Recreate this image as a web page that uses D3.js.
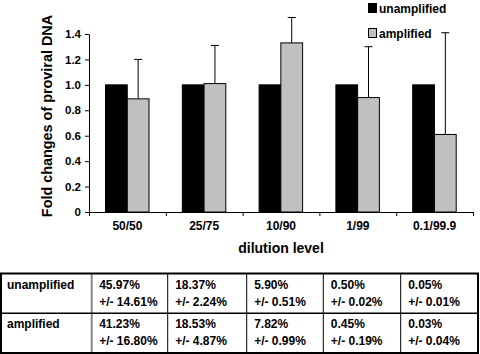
<!DOCTYPE html>
<html>
<head>
<meta charset="utf-8">
<script src="https://cdn.jsdelivr.net/npm/d3@7"></script>
<style>
  body { margin: 0; background: #fff; }
  svg text { font-family: "Liberation Sans", Arial, sans-serif; font-weight: bold; fill: #000; }
</style>
</head>
<body>
<div id="chart"></div>
<script>
const categories = ["50/50", "25/75", "10/90", "1/99", "0.1/99.9"];
const unamplified = [1.0, 1.0, 1.0, 1.0, 1.0];
const amplified = [0.89, 1.01, 1.33, 0.90, 0.61];
const amplifiedErr = [0.31, 0.30, 0.20, 0.40, 0.80];
const yTicks = [0, 0.2, 0.4, 0.6, 0.8, 1.0, 1.2, 1.4];
const seriesNames = ["unamplified", "amplified"];
const rowLabels = ["unamplified", "amplified"];
const tableMeans = [
  ["45.97%", "18.37%", "5.90%", "0.50%", "0.05%"],
  ["41.23%", "18.53%", "7.82%", "0.45%", "0.03%"]
];
const tableSds = [
  ["+/- 14.61%", "+/- 2.24%", "+/- 0.51%", "+/- 0.02%", "+/- 0.01%"],
  ["+/- 16.80%", "+/- 4.87%", "+/- 0.99%", "+/- 0.19%", "+/- 0.04%"]
];

const W = 480, H = 354;
const m = {left: 89, right: 7, top: 34, bottom: 142};
const colors = ["#000000", "#c0c0c0"];

const svg = d3.select("#chart").append("svg")
  .attr("width", W).attr("height", H);

const x0 = d3.scaleBand().domain(categories).range([m.left, W - m.right]);
const x1 = d3.scaleBand().domain(seriesNames).range([16.5, 16.5 + 43.5]);
const y = d3.scaleLinear().domain([0, 1.4]).range([H - m.bottom, m.top]);

// bars
const g = svg.append("g");
categories.forEach((c, i) => {
  const vals = [unamplified[i], amplified[i]];
  vals.forEach((v, j) => {
    g.append("rect")
      .attr("x", x0(c) + x1(seriesNames[j]))
      .attr("y", y(v))
      .attr("width", x1.bandwidth())
      .attr("height", y(0) - y(v))
      .attr("fill", colors[j])
      .attr("stroke", "#000")
      .attr("stroke-width", 1);
  });
  // error bar on amplified
  const cx = x0(c) + x1("amplified") + x1.bandwidth() / 2;
  const top = amplified[i] + amplifiedErr[i];
  g.append("line").attr("x1", cx).attr("x2", cx)
    .attr("y1", y(amplified[i])).attr("y2", y(top))
    .attr("stroke", "#000").attr("stroke-width", 1);
  g.append("line").attr("x1", cx - 4).attr("x2", cx + 4)
    .attr("y1", y(top)).attr("y2", y(top))
    .attr("stroke", "#000").attr("stroke-width", 1);
});

// y axis
const yAxis = svg.append("g")
  .attr("transform", `translate(${m.left},0)`)
  .call(d3.axisLeft(y).tickValues(yTicks)
    .tickFormat(d => d === 0 ? "0" : d3.format(".1f")(d))
    .tickSize(4).tickSizeOuter(0).tickPadding(4));
yAxis.selectAll("text").style("font-size", "11.5px");

// x axis: boundary ticks, labels centered in bands
const xb = d3.scaleLinear().domain([0, categories.length]).range([m.left, W - m.right]);
svg.append("g")
  .attr("transform", `translate(0,${y(0)})`)
  .call(d3.axisBottom(xb).ticks(categories.length).tickFormat("").tickSize(4).tickSizeOuter(4));
const xAxis = svg.append("g")
  .attr("transform", `translate(0,${y(0)})`)
  .call(d3.axisBottom(x0).tickSize(0).tickPadding(9));
xAxis.select(".domain").remove();
xAxis.selectAll("text").style("font-size", "12px");
svg.selectAll(".domain").attr("stroke", "#000");

// axis titles
svg.append("text")
  .attr("x", (m.left + W - m.right) / 2).attr("y", 253)
  .attr("text-anchor", "middle").style("font-size", "14px")
  .text("dilution level");
svg.append("text")
  .attr("transform", "translate(52,116) rotate(-90)")
  .attr("text-anchor", "middle").style("font-size", "14.4px")
  .text("Fold changes of proviral DNA");

// legend
seriesNames.forEach((s, j) => {
  const ly = 3 + j * 25;
  svg.append("rect").attr("x", 368.5).attr("y", ly + 0.5).attr("width", 8).attr("height", 9)
    .attr("fill", colors[j]).attr("stroke", "#000").attr("stroke-width", 1);
  svg.append("text").attr("x", 379).attr("y", ly + 9.5)
    .style("font-size", "12px").text(s);
});

// table
const colX = [1, 91.7, 167.7, 246.7, 323.3, 400.7, 478];
const tTop = 273.5, tMid = 313.3, tBot = 353;
const tg = svg.append("g");
rowLabels.forEach((r, i) => {
  const ry = i === 0 ? tTop : tMid;
  tg.append("text").attr("x", 7).attr("y", ry + 15)
    .style("font-size", "12px").text(r);
  categories.forEach((c, k) => {
    const tx = colX[k + 1] + 7.5;
    tg.append("text").attr("x", tx).attr("y", ry + 15)
      .style("font-size", "12px").text(tableMeans[i][k]);
    tg.append("text").attr("x", tx).attr("y", ry + 32)
      .style("font-size", "12px").text(tableSds[i][k]);
  });
});
colX.slice(2, 6).forEach(cx => {
  tg.append("line").attr("x1", cx).attr("x2", cx).attr("y1", tTop).attr("y2", tBot)
    .attr("stroke", "#000").attr("stroke-width", 1);
});
tg.append("line").attr("x1", colX[1]).attr("x2", colX[1]).attr("y1", tTop).attr("y2", tBot)
  .attr("stroke", "#888").attr("stroke-width", 2);
tg.append("line").attr("x1", colX[0]).attr("x2", colX[6]).attr("y1", tMid).attr("y2", tMid)
  .attr("stroke", "#000").attr("stroke-width", 1.5);
tg.append("rect").attr("x", colX[0]).attr("y", tTop)
  .attr("width", colX[6] - colX[0]).attr("height", tBot - tTop)
  .attr("fill", "none").attr("stroke", "#000").attr("stroke-width", 2);
</script>
</body>
</html>
